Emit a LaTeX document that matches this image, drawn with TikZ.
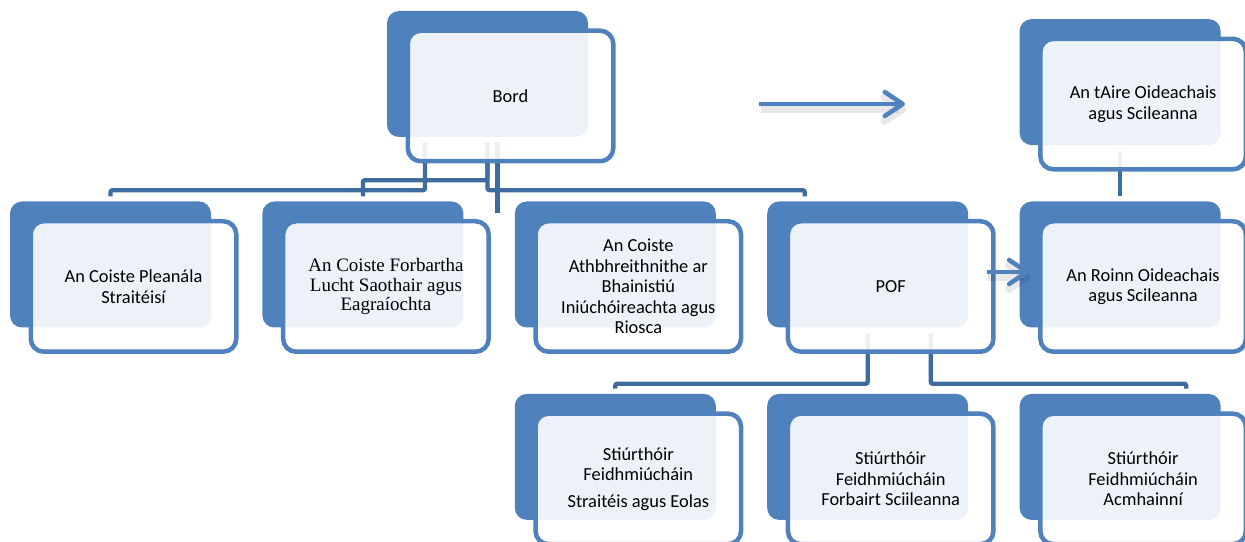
\documentclass[tikz,border=0pt]{standalone}
\usepackage{fontspec}
\setmainfont{Carlito}
\newfontfamily\cambriaface{Liberation Serif}
\usetikzlibrary{positioning,arrows.meta,backgrounds}
\definecolor{boxblue}{HTML}{4F81BD}
\definecolor{linkblue}{HTML}{3F6C9F}
\tikzset{
  back/.style={fill=boxblue, rounded corners=12pt, minimum width=201pt,
    minimum height=126pt, inner sep=0pt},
  front/.style={draw=boxblue, line width=4.5pt, fill=white, fill opacity=0.9,
    text opacity=1, rounded corners=13pt, minimum width=205.5pt,
    minimum height=130.5pt, inner sep=0pt, align=center,
    font=\fontsize{18.4}{20.5}\selectfont},
  link/.style={draw=linkblue, line width=4.3pt, rounded corners=2pt},
  flowtip/.style={-{Straight Barb[length=18pt,width=24pt,round]}},
  shade/.style={draw=black, draw opacity=0.09, line width=8pt, flowtip,
    transform canvas={xshift=1.5pt,yshift=-5pt}},
  flow/.style={draw=boxblue, line width=4.5pt, flowtip}
}

\begin{document}
\begin{tikzpicture}[x=1pt, y=1pt]
      \useasboundingbox (0,0) rectangle (1245,541);
      \node[back] (bordback) at (487.5,467) {};
      \node[front] (bord) at ([xshift=23pt,yshift=-22pt]bordback) {Bord};
      \node[back] (pleanback) at (110.5,276.5) {};
      \node[front] (plean) at ([xshift=23pt,yshift=-22pt]pleanback) {An Coiste Pleanála\\Straitéisí};
      \node[back, right=51pt of pleanback] (forbback) {};
      \node[front, font=\cambriaface\fontsize{19}{19.5}\selectfont] (forb) at ([xshift=23pt,yshift=-22pt]forbback) {An Coiste Forbartha\\Lucht Saothair agus\\Eagraíochta};
      \node[back, right=51pt of forbback] (athback) {};
      \node[front] (ath) at ([xshift=23pt,yshift=-22pt]athback) {An Coiste\\Athbhreithnithe ar\\Bhainistiú\\Iniúchóireachta agus\\Riosca};
      \node[back, right=51pt of athback] (pofback) {};
      \node[front] (pof) at ([xshift=23pt,yshift=-22pt]pofback) {POF};
      \node[back, right=51pt of pofback] (roinnback) {};
      \node[front] (roinn) at ([xshift=23pt,yshift=-22pt]roinnback) {An Roinn Oideachais\\agus Scileanna};
      \node[back, above=56pt of roinnback] (aireback) {};
      \node[front] (aire) at ([xshift=23pt,yshift=-22pt]aireback) {An tAire Oideachais\\agus Scileanna};
      \node[back, below=66pt of athback] (straitback) {};
      \node[front] (strait) at ([xshift=23pt,yshift=-22pt]straitback) {Stiúrthóir\\Feidhmiúcháin\\[6pt]Straitéis agus Eolas};
      \node[back, below=66pt of pofback] (sciilback) {};
      \node[front] (sciil) at ([xshift=23pt,yshift=-22pt]sciilback) {Stiúrthóir\\Feidhmiúcháin\\Forbairt Sciileanna};
      \node[back, below=66pt of roinnback] (acmhback) {};
      \node[front] (acmh) at ([xshift=23pt,yshift=-22pt]acmhback) {Stiúrthóir\\Feidhmiúcháin\\Acmhainní};
      \begin{scope}[on background layer]
        \draw[link] ([xshift=-62.5pt,yshift=-5pt]bordback.south) -- ++(0,-48) -| ([yshift=5pt]pleanback.north);
        \draw[link] ([yshift=-5pt]bordback.south) -- ++(0,-38) -| ([yshift=5pt]forbback.north);
        \draw[link] ([yshift=-5pt]bordback.south) -- ++(0,-48) -| ([xshift=-63pt,yshift=5pt]pofback.north);
        \draw[link] ([xshift=10pt,yshift=-5pt]bordback.south) -- ++(0,-71);
        \draw[link] ([yshift=-6pt]aireback.south) -- ([yshift=5pt]roinnback.north);
        \draw[link] ([yshift=-6pt]pofback.south) -- ++(0,-50) -| ([yshift=5pt]straitback.north);
        \draw[link] ([xshift=63pt,yshift=-6pt]pofback.south) -- ++(0,-50) -| ([xshift=66pt,yshift=5pt]acmhback.north);
      \end{scope}
      \coordinate (flowfrom) at (759,437);
      \coordinate (flowto) at (905,437);
      \draw[shade] (flowfrom) -- (flowto);
      \draw[flow] (flowfrom) -- (flowto);
      \draw[shade] ([xshift=-9pt,yshift=14.5pt]pof.east) -- ([xshift=10pt,yshift=-7.5pt]roinnback.west);
      \draw[flow] ([xshift=-9pt,yshift=14.5pt]pof.east) -- ([xshift=10pt,yshift=-7.5pt]roinnback.west);
\end{tikzpicture}
\end{document}
